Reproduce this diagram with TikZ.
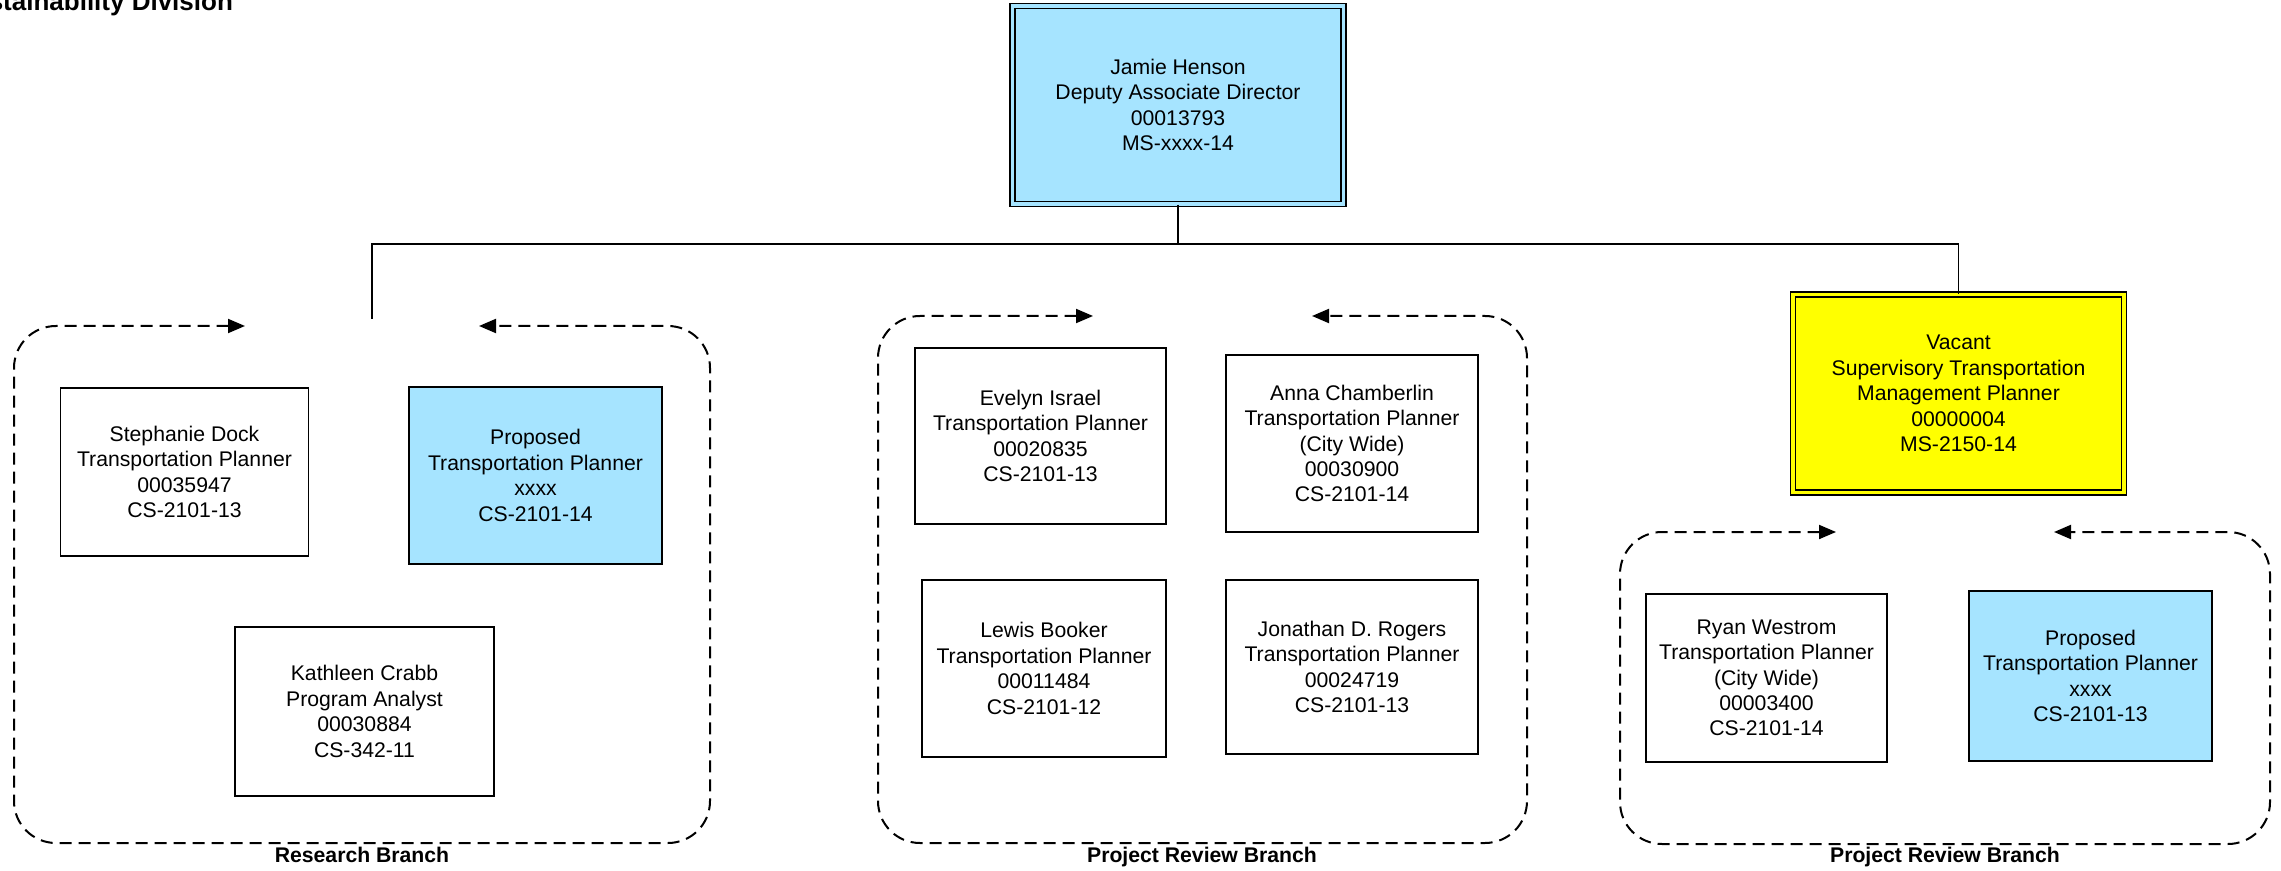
\documentclass[tikz,border=0pt]{standalone}
\usepackage{fontspec}
\setmainfont{Liberation Sans}
\usepackage{tikz}
\usetikzlibrary{arrows.meta, positioning}
\definecolor{propblue}{RGB}{166,228,255}
\definecolor{vacyellow}{RGB}{255,255,0}

\begin{document}
\begin{tikzpicture}[
    x=0.5pt, y=-0.5pt,
    postbox/.style={draw, line width=0.9pt, fill=white, minimum width=124pt,
                    minimum height=86pt, inner sep=0pt, align=center,
                    font=\fontsize{10.6}{12.7}\selectfont},
    proposedbox/.style={postbox, fill=propblue},
    leadbox/.style={postbox, line width=0.7pt, double distance=1.8pt,
                    minimum width=165.5pt, minimum height=99pt},
    branchframe/.style={dash pattern=on 6pt off 3.5pt, line width=1pt,
                        rounded corners=21pt,
                        {Triangle[length=8.5pt, width=7pt]}-{Triangle[length=8.5pt, width=7pt]}},
    branchlabel/.style={font=\fontsize{10.6}{12.7}\selectfont\bfseries, anchor=base},
    headline/.style={font=\fontsize{13}{15}\selectfont\bfseries},
    link/.style={line width=0.8pt},
  ]
    \useasboundingbox (0,0) rectangle (2281,871);

    % Division title (cut at the page edge)
    \node[headline, anchor=base east] (division) at (240,11) {stainability Division};

    % Deputy associate director
    \node[leadbox, fill=propblue, double=propblue] (henson) at (1178,105) {Jamie Henson\\
      Deputy Associate Director\\00013793\\MS-xxxx-14};

    % Supervisor (vacant)
    \node[leadbox, fill=vacyellow, double=vacyellow] (vacant) at (1958.5,393.5) {Vacant\\
      Supervisory Transportation\\Management Planner\\00000004\\MS-2150-14};

    % Research Branch
    \node[postbox, minimum height=84pt] (dock) at (184.5,472) {Stephanie Dock\\
      Transportation Planner\\00035947\\CS-2101-13};
    \node[proposedbox, minimum width=126.5pt, minimum height=88.5pt] (propres) at (535.5,475.5) {Proposed\\
      Transportation Planner\\xxxx\\CS-2101-14};
    \node[postbox, minimum width=129.5pt, minimum height=84.5pt] (crabb) at (364.5,711.5) {Kathleen Crabb\\
      Program Analyst\\00030884\\CS-342-11};

    % Project Review Branch
    \node[postbox, minimum width=125.5pt, minimum height=88pt] (israel) at (1040.5,436) {Evelyn Israel\\
      Transportation Planner\\00020835\\CS-2101-13};
    \node[postbox, minimum width=126pt, minimum height=88.5pt] (chamberlin) at (1352,443.5) {Anna Chamberlin\\
      Transportation Planner\\(City Wide)\\00030900\\CS-2101-14};
    \node[postbox, minimum width=122pt, minimum height=88.5pt] (booker) at (1044,668.5) {Lewis Booker\\
      Transportation Planner\\00011484\\CS-2101-12};
    \node[postbox, minimum width=126pt, minimum height=87pt] (rogers) at (1352,667) {Jonathan D. Rogers\\
      Transportation Planner\\00024719\\CS-2101-13};

    % Project Review Branch (under supervisor)
    \node[postbox, minimum width=120.5pt, minimum height=84pt] (westrom) at (1766.5,678) {Ryan Westrom\\
      Transportation Planner\\(City Wide)\\00003400\\CS-2101-14};
    \node[proposedbox, minimum width=121.5pt, minimum height=85pt] (propprj) at (2090.5,676) {Proposed\\
      Transportation Planner\\xxxx\\CS-2101-13};

    % Branch frames
    \coordinate (res-in) at (245,326);   \coordinate (res-out) at (479,326);
    \coordinate (res-sw) at (14,843);    \coordinate (res-ne) at (710,326);
    \draw[branchframe] (res-in) -| (res-sw) -| (res-ne) -- (res-out);

    \coordinate (prj-in) at (1093,316);  \coordinate (prj-out) at (1312,316);
    \coordinate (prj-sw) at (878,843);   \coordinate (prj-ne) at (1527,316);
    \draw[branchframe] (prj-in) -| (prj-sw) -| (prj-ne) -- (prj-out);

    \coordinate (sup-in) at (1836,532);  \coordinate (sup-out) at (2054,532);
    \coordinate (sup-sw) at (1620,844);  \coordinate (sup-ne) at (2270,532);
    \draw[branchframe] (sup-in) -| (sup-sw) -| (sup-ne) -- (sup-out);

    \node[branchlabel] (reslabel) at (362,862) {Research Branch};
    \node[branchlabel] (prjlabel) at (1202,862) {Project Review Branch};
    \node[branchlabel] (suplabel) at (1945,862) {Project Review Branch};

    % Reporting lines
    \coordinate (bus) at (1178,244);
    \coordinate (res-drop) at (372,319);
    \draw[link] (henson.south) -- (bus) -| (res-drop);
    \draw[link] (bus) -| (vacant.north);
\end{tikzpicture}
\end{document}
